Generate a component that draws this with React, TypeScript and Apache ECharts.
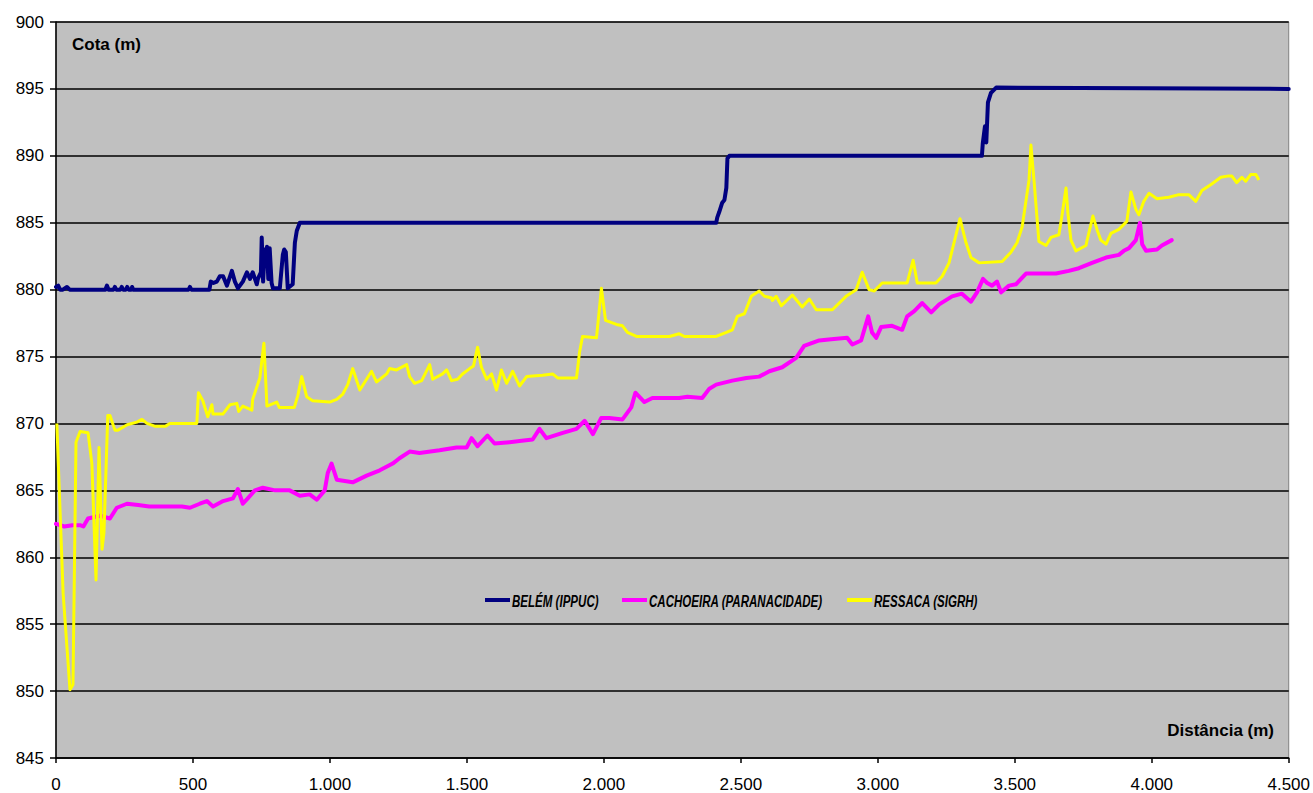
import React, { useEffect, useRef } from "react";
import * as echarts from "echarts";

const xTicks = [0, 500, 1000, 1500, 2000, 2500, 3000, 3500, 4000, 4500];
const yTicks = [845, 850, 855, 860, 865, 870, 875, 880, 885, 890, 895, 900];

const seriesNames = ["BELÉM (IPPUC)", "CACHOEIRA (PARANACIDADE)", "RESSACA (SIGRH)"];

const belem: [number, number][] = [
  [0, 880.2], [8, 880.3], [15, 880.0], [25, 880.0], [40, 880.2], [50, 880.0], [58, 880.0], [70, 880.0],
  [180, 880.0], [186, 880.3], [192, 880.0], [210, 880.0], [215, 880.2], [220, 880.0], [235, 880.0],
  [240, 880.2], [245, 880.0], [255, 880.0], [260, 880.2], [265, 880.0], [275, 880.0], [278, 880.2],
  [282, 880.0], [484, 880.0], [489, 880.2], [494, 880.0], [560, 880.0], [565, 880.6],
  [575, 880.5], [587, 880.6], [598, 881.0], [610, 881.0], [624, 880.3], [642, 881.4], [653, 880.6],
  [664, 880.1], [682, 880.6], [697, 881.3], [708, 880.8], [718, 881.3], [733, 880.4], [737, 880.8],
  [748, 881.3], [751, 883.9], [756, 880.6], [762, 883.0], [766, 882.0], [770, 883.2], [775, 880.8],
  [780, 883.1], [787, 880.5], [792, 880.1], [817, 880.1], [828, 882.6], [833, 883.0], [839, 882.8],
  [846, 880.1], [864, 880.4], [872, 883.5], [879, 884.4], [890, 885.0], [2410, 885.0], [2414, 885.4],
  [2421, 885.8], [2432, 886.5], [2440, 886.7], [2447, 887.6], [2451, 889.8], [2458, 890.0],
  [3380, 890.0], [3383, 890.9], [3391, 892.2], [3396, 891.0], [3402, 894.0], [3413, 894.7],
  [3432, 895.1], [4500, 895.0],
];

const cachoeira: [number, number][] = [
  [0, 862.5], [30, 862.3], [60, 862.4], [88, 862.4], [100, 862.3], [117, 862.9], [160, 863.1],
  [197, 862.9], [222, 863.7], [259, 864.0], [300, 863.9], [340, 863.8], [400, 863.8], [460, 863.8],
  [489, 863.7], [525, 864.0], [551, 864.2], [573, 863.8], [610, 864.2], [646, 864.4], [664, 865.1],
  [682, 864.0], [700, 864.4], [726, 865.0], [755, 865.2], [800, 865.0], [853, 865.0], [890, 864.6],
  [926, 864.7], [952, 864.3], [981, 865.0], [992, 866.3], [1006, 867.0], [1025, 865.8], [1083, 865.6],
  [1134, 866.1], [1182, 866.5], [1229, 867.0], [1254, 867.4], [1291, 867.9], [1327, 867.8],
  [1400, 868.0], [1462, 868.2], [1499, 868.2], [1517, 868.9], [1539, 868.3], [1575, 869.1],
  [1601, 868.5], [1656, 868.6], [1700, 868.7], [1740, 868.8], [1765, 869.6], [1790, 868.9],
  [1850, 869.3], [1900, 869.6], [1930, 870.2], [1960, 869.2], [1990, 870.4], [2020, 870.4],
  [2068, 870.3], [2100, 871.2], [2115, 872.3], [2148, 871.6], [2177, 871.9], [2275, 871.9],
  [2305, 872.0], [2359, 871.9], [2385, 872.6], [2410, 872.9], [2469, 873.2], [2520, 873.4],
  [2567, 873.5], [2604, 873.9], [2651, 874.2], [2702, 874.9], [2731, 875.8], [2786, 876.2],
  [2830, 876.3], [2888, 876.4], [2907, 875.9], [2939, 876.2], [2965, 878.0], [2979, 876.8],
  [2994, 876.4], [3012, 877.2], [3052, 877.3], [3089, 877.0], [3107, 878.0], [3133, 878.4],
  [3162, 879.0], [3195, 878.3], [3224, 878.9], [3271, 879.5], [3307, 879.7], [3340, 879.1],
  [3362, 879.8], [3384, 880.8], [3399, 880.5], [3417, 880.3], [3435, 880.6], [3450, 879.8],
  [3479, 880.3], [3504, 880.4], [3541, 881.2], [3588, 881.2], [3650, 881.2], [3697, 881.4],
  [3734, 881.6], [3782, 882.0], [3833, 882.4], [3880, 882.6], [3898, 882.9], [3917, 883.1],
  [3942, 883.7], [3957, 885.0], [3965, 883.4], [3979, 882.9], [4019, 883.0], [4037, 883.3],
  [4073, 883.7],
];

const ressaca: [number, number][] = [
  [3, 870.0], [26, 857.3], [51, 850.1], [62, 850.5], [73, 868.6], [88, 869.4], [117, 869.3],
  [131, 867.0], [146, 858.3], [157, 868.2], [168, 860.6], [175, 861.8], [189, 870.6], [197, 870.6],
  [215, 869.5], [226, 869.5], [260, 869.9], [295, 870.1], [314, 870.3], [332, 870.0], [360, 869.8],
  [400, 869.8], [416, 870.0], [514, 870.0], [520, 872.3], [536, 871.7], [554, 870.5], [569, 871.4],
  [573, 870.7], [609, 870.7], [635, 871.4], [660, 871.5], [667, 870.9], [682, 871.3], [715, 871.0],
  [718, 871.8], [744, 873.4], [759, 876.0], [770, 871.3], [806, 871.6], [815, 871.2], [870, 871.2],
  [883, 872.1], [897, 873.5], [915, 872.0], [937, 871.7], [999, 871.6], [1025, 871.8], [1047, 872.2],
  [1065, 872.9], [1083, 874.1], [1109, 872.5], [1152, 873.9], [1170, 873.1], [1207, 873.7],
  [1218, 874.1], [1243, 874.0], [1280, 874.4], [1291, 873.5], [1309, 873.0], [1335, 873.2],
  [1364, 874.4], [1375, 873.3], [1411, 873.7], [1426, 874.0], [1444, 873.2], [1466, 873.3],
  [1484, 873.7], [1510, 874.1], [1524, 874.3], [1539, 875.7], [1553, 874.2], [1572, 873.3],
  [1590, 873.7], [1608, 872.5], [1626, 874.0], [1645, 873.0], [1667, 873.9], [1692, 872.8],
  [1718, 873.5], [1776, 873.6], [1813, 873.7], [1831, 873.4], [1900, 873.4], [1911, 875.3],
  [1922, 876.5], [1973, 876.4], [1991, 880.1], [2006, 877.7], [2046, 877.4], [2068, 877.3],
  [2086, 876.8], [2119, 876.5], [2239, 876.5], [2275, 876.7], [2294, 876.5], [2410, 876.5],
  [2447, 876.8], [2469, 877.0], [2487, 878.0], [2513, 878.2], [2538, 879.5], [2567, 879.9],
  [2586, 879.5], [2611, 879.4], [2615, 879.2], [2629, 879.5], [2648, 878.8], [2688, 879.6],
  [2724, 878.7], [2750, 879.3], [2775, 878.5], [2834, 878.5], [2884, 879.5], [2921, 880.0],
  [2943, 881.3], [2968, 880.0], [2987, 879.9], [3016, 880.5], [3107, 880.5], [3129, 882.2],
  [3144, 880.5], [3212, 880.5], [3235, 881.0], [3260, 882.0], [3278, 883.5], [3300, 885.3],
  [3322, 883.5], [3340, 882.4], [3370, 882.0], [3454, 882.1], [3486, 882.8], [3508, 883.5],
  [3527, 884.7], [3552, 888.2], [3559, 890.8], [3570, 888.2], [3588, 883.6], [3614, 883.3],
  [3632, 883.9], [3661, 884.1], [3672, 885.5], [3687, 887.6], [3694, 885.7], [3705, 883.7],
  [3723, 882.9], [3760, 883.3], [3763, 883.6], [3785, 885.5], [3800, 884.5], [3814, 883.7],
  [3833, 883.4], [3851, 884.2], [3880, 884.5], [3909, 885.1], [3924, 887.3], [3942, 886.0],
  [3953, 885.6], [3971, 886.6], [3990, 887.2], [4019, 886.8], [4062, 886.9], [4099, 887.1],
  [4135, 887.1], [4161, 886.6], [4183, 887.4], [4219, 887.9], [4252, 888.4], [4281, 888.5],
  [4292, 888.5], [4310, 888.0], [4329, 888.4], [4343, 888.1], [4361, 888.6], [4380, 888.6],
  [4391, 888.2],
];

const colors = ["#000080", "#FF00FF", "#FFFF00"];
const FONT = "'Liberation Sans', Arial, sans-serif";

function fmtThousands(v: number): string {
  if (v < 1000) return String(v);
  const k = Math.floor(v / 1000);
  const r = String(v % 1000).padStart(3, "0");
  return `${k}.${r}`;
}

export default function App() {
  const ref = useRef<HTMLDivElement>(null);
  useEffect(() => {
    document.body.style.margin = "0";
    if (!ref.current) return;
    const chart = echarts.init(ref.current, undefined, { renderer: "svg" });
    const legendLineX = [485, 622, 847];
    const legendY = 600;
    const legendItems = seriesNames.map((n, i) => ({
      type: "group",
      children: [
        {
          type: "line",
          shape: { x1: legendLineX[i], y1: legendY, x2: legendLineX[i] + 25, y2: legendY },
          style: { stroke: colors[i], lineWidth: 4 },
        },
        {
          type: "text",
          x: legendLineX[i] + 27,
          y: legendY + 1,
          scaleX: 0.68,
          style: {
            text: n,
            x: 0,
            y: 0,
            font: `italic bold 17px ${FONT}`,
            fill: "#000000",
            textAlign: "left",
            textVerticalAlign: "middle",
          },
        },
      ],
    }));
    chart.setOption({
      animation: false,
      backgroundColor: "#FFFFFF",
      grid: {
        left: 56,
        right: 23,
        top: 22,
        bottom: 35,
        show: true,
        backgroundColor: "#C0C0C0",
        borderColor: "#808080",
        borderWidth: 1,
      },
      xAxis: {
        type: "value",
        min: xTicks[0],
        max: xTicks[xTicks.length - 1],
        interval: 500,
        axisLine: { show: true, lineStyle: { color: "#000000", width: 1.5 } },
        axisTick: { show: true, length: 5, lineStyle: { color: "#000000", width: 1.5 } },
        axisLabel: {
          margin: 18,
          fontFamily: FONT,
          fontSize: 17,
          color: "#000000",
          formatter: (v: number) => fmtThousands(v),
        },
        splitLine: { show: false },
      },
      yAxis: {
        type: "value",
        min: yTicks[0],
        max: yTicks[yTicks.length - 1],
        interval: 5,
        axisLine: { show: true, lineStyle: { color: "#000000", width: 1.5 } },
        axisTick: { show: true, length: 6, lineStyle: { color: "#000000", width: 1.5 } },
        axisLabel: { margin: 12, fontFamily: FONT, fontSize: 17, color: "#000000" },
        splitLine: { show: true, lineStyle: { color: "#000000", width: 1.5 } },
      },
      graphic: [
        {
          type: "text",
          left: 72,
          top: 36,
          style: { text: "Cota (m)", font: `bold 17px ${FONT}`, fill: "#000000" },
        },
        {
          type: "text",
          right: 39,
          top: 722,
          style: { text: "Distância (m)", font: `bold 17px ${FONT}`, fill: "#000000" },
        },
        ...legendItems,
      ],
      series: [
        {
          name: seriesNames[0],
          type: "line",
          data: belem,
          showSymbol: false,
          color: colors[0],
          lineStyle: { color: colors[0], width: 4, join: "round", cap: "round" },
        },
        {
          name: seriesNames[1],
          type: "line",
          data: cachoeira,
          showSymbol: false,
          color: colors[1],
          lineStyle: { color: colors[1], width: 4, join: "round", cap: "round" },
        },
        {
          name: seriesNames[2],
          type: "line",
          data: ressaca,
          showSymbol: false,
          color: colors[2],
          lineStyle: { color: colors[2], width: 3, join: "round" },
        },
      ],
    });
    return () => chart.dispose();
  }, []);
  return <div ref={ref} style={{ width: 1313, height: 793 }} />;
}
